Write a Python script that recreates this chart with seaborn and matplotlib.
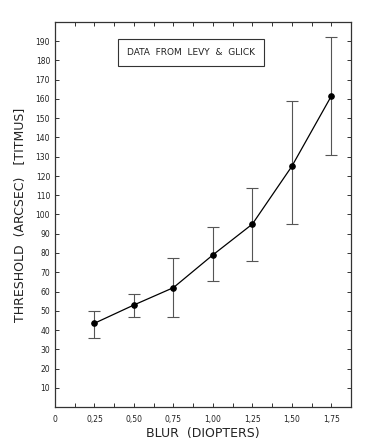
import seaborn as sns
import matplotlib.pyplot as plt
import pandas as pd

# datos
blur = [0.25, 0.50, 0.75, 1.00, 1.25, 1.50, 1.75]
threshold = [43.5, 53, 62, 79, 95, 125, 161.5]
err_low = [36, 47, 46.5, 65.5, 76, 95, 131]
err_high = [50, 58.5, 77.5, 93.5, 114, 159, 192]

x_ticks = [0, 0.25, 0.50, 0.75, 1.00, 1.25, 1.50, 1.75]
x_labels = ['0', '0,25', '0,50', '0,75', '1,00', '1,25', '1,50', '1,75']
y_ticks = list(range(10, 200, 10))

datos = pd.DataFrame({'blur': blur, 'threshold': threshold})

sns.set_style('ticks')
plt.rcParams['font.family'] = ['DejaVu Sans']

fig = plt.figure(figsize=(3.72, 4.40), dpi=100)
ax = fig.add_axes([55 / 372, 33 / 440, 296 / 372, 385 / 440])

yerr = [[t - lo for t, lo in zip(threshold, err_low)],
        [hi - t for t, hi in zip(threshold, err_high)]]
ax.errorbar(blur, threshold, yerr=yerr, fmt='none', ecolor='#555555',
            elinewidth=0.8, capsize=4, capthick=0.8)
sns.lineplot(data=datos, x='blur', y='threshold', ax=ax, color='black',
             linewidth=0.9, marker='o', markersize=4, markeredgecolor='black')

ax.set_xlim(0, 1.875)
ax.set_ylim(0, 200)
ax.set_xticks(x_ticks)
ax.set_xticklabels(x_labels)
ax.set_xticks([i * 0.125 for i in range(1, 15, 2)], minor=True)
ax.set_yticks(y_ticks)
ax.set_yticklabels([str(v) for v in y_ticks])

ax.tick_params(which='both', direction='in', top=True, right=True,
               labelsize=5.5, length=3, width=0.7, colors='#333333',
               labelcolor='#222222')
ax.tick_params(axis='x', pad=6)
for s in ax.spines.values():
    s.set_linewidth(0.9)
    s.set_color('#333333')

ax.set_xlabel('BLUR  (DIOPTERS)', fontsize=9, color='#222222', labelpad=2)
ax.set_ylabel('THRESHOLD  (ARCSEC)   [TITMUS]', fontsize=9, color='#222222',
              labelpad=6)

ax.text(0.46, 0.92, 'DATA  FROM  LEVY  &  GLICK', transform=ax.transAxes,
        ha='center', va='center', fontsize=6.5, color='#222222',
        bbox=dict(boxstyle='square,pad=1.0', facecolor='white',
                  edgecolor='#333333', linewidth=0.8))

plt.savefig('out.png', dpi=100)
